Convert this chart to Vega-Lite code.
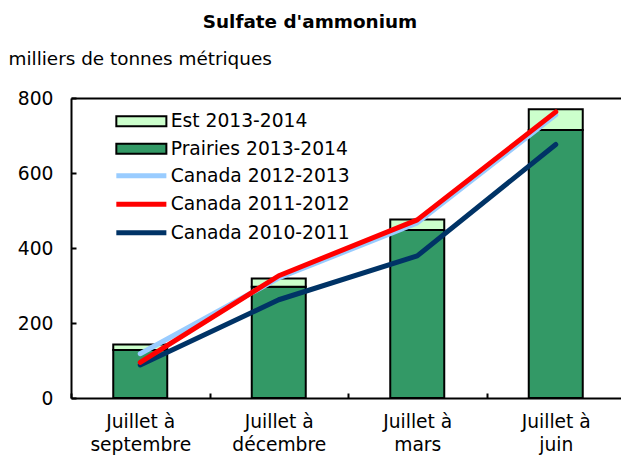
{
  "$schema": "https://vega.github.io/schema/vega-lite/v6.json",
  "width": 550,
  "height": 300,
  "autosize": {"type": "none"},
  "padding": {"left": 71, "top": 98, "right": 0, "bottom": 58},
  "title": {"text": "Sulfate d'ammonium", "anchor": "middle", "frame": "group", "dx": -36, "fontSize": 18.4, "fontWeight": "bold", "font": "DejaVu Sans", "color": "black", "offset": 18},
  "config": {
    "font": "DejaVu Sans",
    "view": {"stroke": null},
    "axis": {"domainColor": "black", "domainWidth": 2, "tickColor": "black", "tickWidth": 2, "labelColor": "black", "labelFontSize": 18.7, "labelFont": "DejaVu Sans", "titleColor": "black", "titleFont": "DejaVu Sans", "grid": false},
    "legend": {"labelFontSize": 18.7, "labelColor": "black", "labelFont": "DejaVu Sans", "labelLimit": 0, "padding": 0, "symbolSize": 144, "labelOffset": 20, "title": null}
  },
  "datasets": {
    "bars": [
      {"cat": "Juillet à\nseptembre", "series": "Prairies 2013-2014", "value": 128},
      {"cat": "Juillet à\nseptembre", "series": "Est 2013-2014", "value": 15},
      {"cat": "Juillet à\ndécembre", "series": "Prairies 2013-2014", "value": 297},
      {"cat": "Juillet à\ndécembre", "series": "Est 2013-2014", "value": 22},
      {"cat": "Juillet à\nmars", "series": "Prairies 2013-2014", "value": 448},
      {"cat": "Juillet à\nmars", "series": "Est 2013-2014", "value": 28},
      {"cat": "Juillet à\njuin", "series": "Prairies 2013-2014", "value": 715},
      {"cat": "Juillet à\njuin", "series": "Est 2013-2014", "value": 55}
    ],
    "lines": [
      {"cat": "Juillet à\nseptembre", "series": "Canada 2010-2011", "value": 88},
      {"cat": "Juillet à\ndécembre", "series": "Canada 2010-2011", "value": 262},
      {"cat": "Juillet à\nmars", "series": "Canada 2010-2011", "value": 379},
      {"cat": "Juillet à\njuin", "series": "Canada 2010-2011", "value": 676},
      {"cat": "Juillet à\nseptembre", "series": "Canada 2012-2013", "value": 118},
      {"cat": "Juillet à\ndécembre", "series": "Canada 2012-2013", "value": 320},
      {"cat": "Juillet à\nmars", "series": "Canada 2012-2013", "value": 467},
      {"cat": "Juillet à\njuin", "series": "Canada 2012-2013", "value": 755},
      {"cat": "Juillet à\nseptembre", "series": "Canada 2011-2012", "value": 95},
      {"cat": "Juillet à\ndécembre", "series": "Canada 2011-2012", "value": 326},
      {"cat": "Juillet à\nmars", "series": "Canada 2011-2012", "value": 475},
      {"cat": "Juillet à\njuin", "series": "Canada 2011-2012", "value": 763}
    ]
  },
  "layer": [
    {
      "data": {"name": "bars"},
      "mark": {"type": "bar", "size": 54, "stroke": "black", "strokeWidth": 2},
      "encoding": {
        "x": {
          "field": "cat", "type": "nominal",
          "sort": ["Juillet à\nseptembre", "Juillet à\ndécembre", "Juillet à\nmars", "Juillet à\njuin"],
          "scale": {"range": [0, 554], "paddingInner": 0, "paddingOuter": 0},
          "axis": {"title": null, "labelAngle": 0, "labelExpr": "split(datum.label, '\\n')", "tickBand": "extent", "tickSize": -5, "labelPadding": 19, "labelLineHeight": 23, "labelBaseline": "top"}
        },
        "y": {
          "field": "value", "type": "quantitative", "stack": "zero",
          "scale": {"domain": [0, 800], "nice": false},
          "axis": {"title": "milliers de tonnes métriques", "titleAngle": 0, "titleAlign": "left", "titleBaseline": "middle", "titleX": -63, "titleY": -40, "titleFontWeight": "normal", "titleFontSize": 18.4, "values": [0, 200, 400, 600, 800], "tickSize": -5, "labelPadding": 23}
        },
        "fill": {
          "field": "series", "type": "nominal",
          "scale": {"domain": ["Est 2013-2014", "Prairies 2013-2014"], "range": ["#CCFFCC", "#339966"]},
          "legend": {
            "orient": "none", "legendX": 61, "legendY": 14, "rowPadding": 7.5,
            "symbolType": "M-4.17,-0.83H4.17V0.83H-4.17Z",
            "symbolStrokeColor": "black", "symbolStrokeWidth": 2, "symbolOpacity": 1
          }
        },
        "order": {"field": "series", "sort": "descending"}
      }
    },
    {
      "data": {"name": "lines"},
      "mark": {"type": "line", "strokeWidth": 5, "strokeCap": "round", "strokeJoin": "round"},
      "encoding": {
        "x": {
          "field": "cat", "type": "nominal", "bandPosition": 0.5,
          "sort": ["Juillet à\nseptembre", "Juillet à\ndécembre", "Juillet à\nmars", "Juillet à\njuin"],
          "axis": {"orient": "top", "labels": false, "ticks": false, "title": null, "domain": true}
        },
        "y": {"field": "value", "type": "quantitative"},
        "stroke": {
          "field": "series", "type": "nominal",
          "scale": {"domain": ["Canada 2012-2013", "Canada 2011-2012", "Canada 2010-2011"], "range": ["#99CCFF", "#FF0000", "#003366"]},
          "legend": {
            "orient": "none", "legendX": 61, "legendY": 68.5, "rowPadding": 7.5,
            "symbolType": "M-4.17,0H4.17",
            "symbolStrokeWidth": 5, "symbolOpacity": 1
          }
        }
      }
    }
  ],
  "resolve": {"axis": {"x": "independent"}}
}
